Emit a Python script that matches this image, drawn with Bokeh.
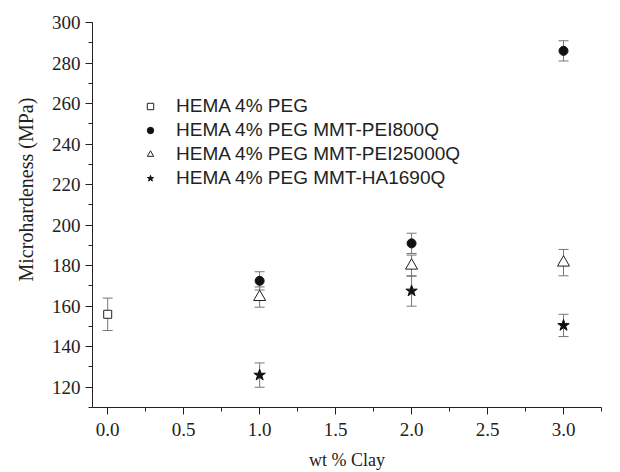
from bokeh.plotting import figure
from bokeh.models import (Range1d, SingleIntervalTicker, PrintfTickFormatter,
                          Whisker, TeeHead, ColumnDataSource, Legend, LegendItem, Title)
from bokeh.embed import file_html
from bokeh.resources import INLINE

# ---- data ----
x_peg = [0.0]
y_peg = [156.0]
e_peg = [8.0]

x_clay = [1.0, 2.0, 3.0]
y_pei800 = [172.5, 191.0, 286.0]
e_pei800 = [4.5, 5.0, 5.0]
y_pei25000 = [164.5, 180.0, 181.5]
e_pei25000 = [5.0, 5.2, 6.5]
y_ha1690 = [126.0, 167.5, 150.5]
e_ha1690 = [6.0, 7.5, 5.5]

labels = ["HEMA 4% PEG", "HEMA 4% PEG MMT-PEI800Q",
          "HEMA 4% PEG MMT-PEI25000Q", "HEMA 4% PEG MMT-HA1690Q"]
x_title = "wt % Clay"
y_title = "Microhardeness (MPa)"

p = figure(width=612, height=472, output_backend="svg", toolbar_location=None,
           x_range=Range1d(-0.1, 3.25), y_range=Range1d(110, 300),
           min_border_left=92, min_border_right=11, min_border_top=22, min_border_bottom=63)
p.grid.visible = False
p.outline_line_color = None
p.background_fill_color = "white"
p.border_fill_color = "white"

serif = "Liberation Serif"
for ax in (p.xaxis[0], p.yaxis[0]):
    ax.axis_line_color = "#222222"
    ax.major_tick_line_color = "#222222"
    ax.minor_tick_line_color = "#222222"
    ax.major_tick_in = 0
    ax.major_tick_out = 7
    ax.minor_tick_in = 0
    ax.minor_tick_out = 4
    ax.major_label_text_font = serif
    ax.major_label_text_font_size = "19px"
    ax.major_label_text_color = "#222222"

p.xaxis[0].ticker = SingleIntervalTicker(interval=0.5, num_minor_ticks=2)
p.xaxis[0].formatter = PrintfTickFormatter(format="%.1f")
p.xaxis[0].major_label_standoff = 8
p.xaxis[0].axis_label = x_title
p.xaxis[0].axis_label_text_font = serif
p.xaxis[0].axis_label_text_font_size = "18px"
p.xaxis[0].axis_label_text_font_style = "normal"
p.xaxis[0].axis_label_text_color = "#222222"
p.xaxis[0].axis_label_standoff = 11

p.yaxis[0].ticker = SingleIntervalTicker(interval=20, num_minor_ticks=2)
p.yaxis[0].major_label_standoff = 5

# y title as a side title so it can be shifted upward like in the reference
p.add_layout(Title(text=y_title, align="left", offset=126, text_font=serif,
                   text_font_size="20px", text_font_style="normal",
                   text_color="#222222", standoff=23), "left")

def add_err(xs, ys, es):
    src = ColumnDataSource(dict(x=xs, lo=[y - e for y, e in zip(ys, es)],
                                hi=[y + e for y, e in zip(ys, es)]))
    w = Whisker(base="x", lower="lo", upper="hi", source=src,
                line_color="#777777", line_width=1, level="underlay",
                upper_head=TeeHead(size=10, line_color="#777777", line_width=1),
                lower_head=TeeHead(size=10, line_color="#777777", line_width=1))
    p.add_layout(w)

add_err(x_peg, y_peg, e_peg)
add_err(x_clay, y_pei800, e_pei800)
add_err(x_clay, y_pei25000, e_pei25000)
add_err(x_clay, y_ha1690, e_ha1690)

r1 = p.scatter(x_peg, y_peg, marker="square", size=8, line_color="#222222",
               fill_color="white", line_width=1)
r2 = p.scatter(x_clay, y_pei800, marker="circle", size=9, line_color="#111111",
               fill_color="#111111")
r3 = p.scatter(x_clay, y_pei25000, marker="triangle", size=12, line_color="#222222",
               fill_color="white", line_width=1)
r4 = p.scatter(x_clay, y_ha1690, marker="star", size=12, line_color="#111111",
               fill_color="#111111")

legend = Legend(items=[LegendItem(label=labels[0], renderers=[r1]),
                       LegendItem(label=labels[1], renderers=[r2]),
                       LegendItem(label=labels[2], renderers=[r3]),
                       LegendItem(label=labels[3], renderers=[r4])],
                location=(50, 218), orientation="vertical",
                background_fill_alpha=0, border_line_color=None,
                padding=0, margin=0, spacing=2,
                glyph_width=16, glyph_height=20, label_height=20,
                label_standoff=18,
                label_text_font="Liberation Sans", label_text_font_size="19px",
                label_text_color="#222222", label_text_baseline="middle")
p.add_layout(legend)

open("out.html", "w").write(file_html(p, INLINE))
